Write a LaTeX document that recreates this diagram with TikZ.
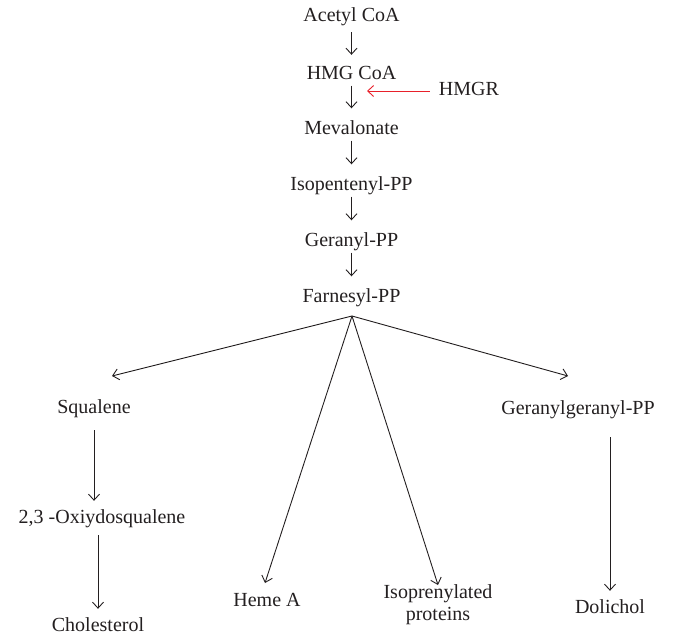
\documentclass[tikz,border=0pt]{standalone}
\usepackage{fontspec}
\setmainfont{Liberation Serif}
\usetikzlibrary{arrows.meta}
\definecolor{hmgred}{HTML}{E8202A}
\definecolor{txt}{HTML}{231F20}
\begin{document}
\begin{tikzpicture}[x=1pt,y=-1pt,
  lbl/.style={font=\fontsize{20}{22}\selectfont, text=txt, inner sep=0pt, text height=13pt, text depth=4pt, align=center},
  conn/.style={draw=txt, line width=0.9pt, -{Straight Barb[length=6pt,width=11pt,line width=0.9pt]}},
  chain/.style={conn, shorten <=2pt, shorten >=13pt},
  redconn/.style={conn, draw=hmgred, shorten <=9pt, -{Straight Barb[length=6pt,width=11pt,line width=0.9pt,color=hmgred]}}]
\useasboundingbox (0,0) rectangle (675,638);
\node[lbl] (acetyl) at (351.5,17) {Acetyl CoA};
\node[lbl] (hmg) at (351.5,75) {HMG CoA};
\node[lbl] (hmgr) at (469,91) {HMGR};
\node[lbl] (meva) at (351.5,130) {Mevalonate};
\node[lbl] (ipp) at (351.5,186) {Isopentenyl-PP};
\node[lbl] (gpp) at (351.5,242) {Geranyl-PP};
\node[lbl] (fpp) at (351.5,298) {Farnesyl-PP};
\node[lbl] (squal) at (94,409) {Squalene};
\node[lbl] (oxi) at (102,519) {2,3 -Oxiydosqualene};
\node[lbl] (chol) at (98,627) {Cholesterol};
\node[lbl] (heme) at (267,602) {Heme A};
\node[lbl] (isop) at (438,616) {Isoprenylated\\proteins};
\node[lbl] (ggpp) at (578,410) {Geranylgeranyl-PP};
\node[lbl] (doli) at (610,609) {Dolichol};
% connector points
\coordinate (apex) at (352,316);
\coordinate (hmgline) at (367,91);
\coordinate (sqend) at (112,376);
\coordinate (hemeend) at (265,583);
\coordinate (isopend) at (438,585);
\coordinate (ggend) at (568,376);
% main chain
\draw[chain, shorten <=6.5pt, shorten >=11.5pt] (acetyl) -- (hmg);
\draw[chain] (hmg) -- (meva);
\draw[chain] (meva) -- (ipp);
\draw[chain] (ipp) -- (gpp);
\draw[chain] (gpp) -- (fpp);
\draw[redconn] (hmgr.west) -- (hmgline);
% fan from Farnesyl-PP
\draw[conn] (apex) -- (sqend);
\draw[conn] (apex) -- (hemeend);
\draw[conn] (apex) -- (isopend);
\draw[conn] (apex) -- (ggend);
% side chains
\draw[conn, shorten <=12.5pt, shorten >=9.5pt] (squal.south) -- (squal.south |- oxi.north);
\draw[conn, shorten <=7.5pt, shorten >=9.5pt] (chol.north |- oxi.south) -- (chol.north);
\draw[conn, shorten <=18.5pt, shorten >=9.5pt] (doli.north |- ggpp.south) -- (doli.north);
\end{tikzpicture}
\end{document}
